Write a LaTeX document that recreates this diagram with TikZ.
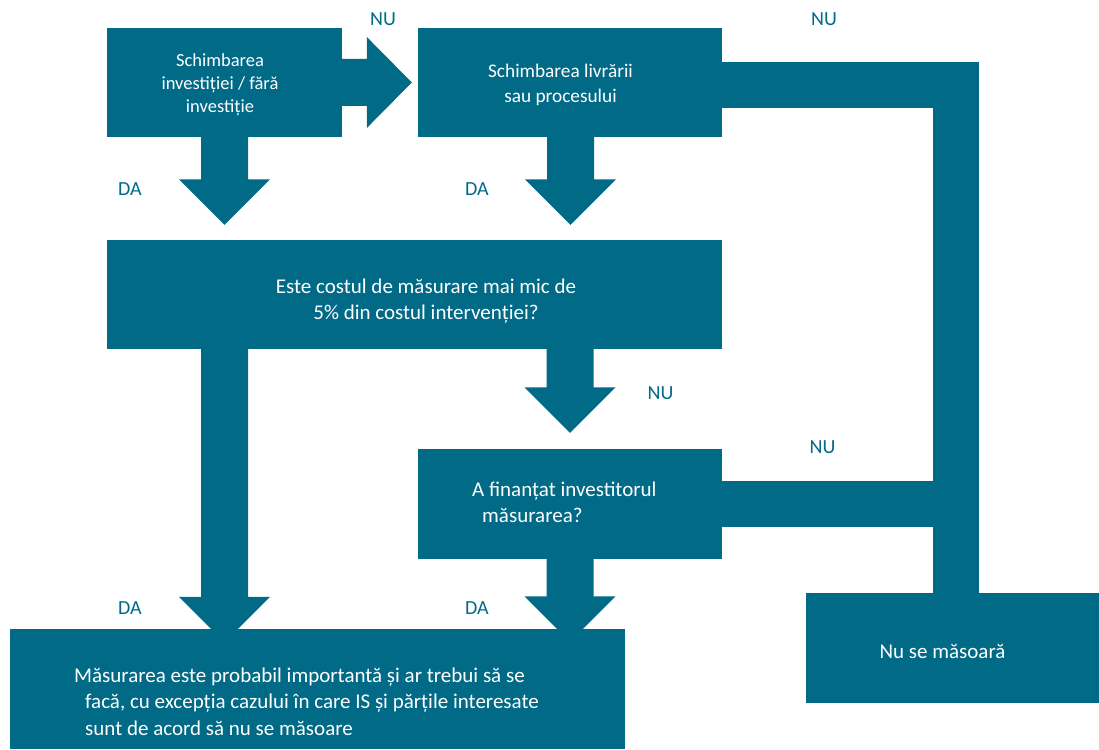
\documentclass[tikz,border=0pt]{standalone}
\usepackage{fontspec}
\setmainfont{Carlito}
\usetikzlibrary{calc}
\definecolor{flowteal}{RGB}{0,106,135}

% block arrow pointing down from the bottom of #1 towards the top of #2
% #3 = axis x, #4 = gap left between the tip and the target
\newcommand\downflow[4]{%
  \fill[flowteal]
    ($(#1.south -| #3,0)+(-23.5,0)$) --
    ($(#2.north -| #3,0)+(-23.5,{-(#4)-45.5})$) --
    ($(#2.north -| #3,0)+(-45.5,{-(#4)-45.5})$) --
    ($(#2.north -| #3,0)+(0,{-(#4)})$) --
    ($(#2.north -| #3,0)+(45.5,{-(#4)-45.5})$) --
    ($(#2.north -| #3,0)+(23.5,{-(#4)-45.5})$) --
    ($(#1.south -| #3,0)+(23.5,0)$) -- cycle;}

% block arrow pointing right from #1 towards #2, axis y = #3, gap = #4
\newcommand\rightflow[4]{%
  \fill[flowteal]
    ($(#1.east |- 0,#3)+(0,-23.5)$) --
    ($(#2.west |- 0,#3)+({-(#4)-45},-23.5)$) --
    ($(#2.west |- 0,#3)+({-(#4)-45},-45.5)$) --
    ($(#2.west |- 0,#3)+({-(#4)},0)$) --
    ($(#2.west |- 0,#3)+({-(#4)-45},45.5)$) --
    ($(#2.west |- 0,#3)+({-(#4)-45},23.5)$) --
    ($(#1.east |- 0,#3)+(0,23.5)$) -- cycle;}

\tikzset{
  box/.style={fill=flowteal, draw=none, inner sep=0pt},
  boxtext/.style={text=white, inner sep=0pt, align=center,
    font=\fontsize{21}{26}\selectfont},
  lbl/.style={text=flowteal, inner sep=0pt, font=\fontsize{20}{22}\selectfont},
  band/.style={draw=flowteal, line width=46pt, line cap=butt, line join=miter}
}

\begin{document}
\begin{tikzpicture}[x=1pt,y=-1pt]
\useasboundingbox (0,0) rectangle (1099,749);

% boxes
\node[box, minimum width=235pt, minimum height=109pt] (b1) at (224.5,82.5) {};
\node[box, minimum width=304pt, minimum height=109pt] (b2) at (570,82.5) {};
\node[box, minimum width=615pt, minimum height=109pt] (b3) at (414.5,294.5) {};
\node[box, minimum width=304pt, minimum height=110pt] (b4) at (570,504) {};
\node[box, minimum width=615pt, minimum height=120pt] (b5) at (317.5,689) {};
\node[box, minimum width=293pt, minimum height=110pt] (b6) at (952.5,648) {};

% connectors
\rightflow{b1}{b2}{82.5}{6}
\downflow{b1}{b3}{224.5}{15}
\downflow{b2}{b3}{570.5}{15}
\downflow{b3}{b4}{570}{16}
\downflow{b3}{b5}{224.5}{-13.5}
\downflow{b4}{b5}{570}{-13}
\coordinate (turn) at (956,85);
\draw[band] (b2.east |- turn) -- (turn) -- (turn |- b6.north);
\draw[band] (b4.east) -- (b4.east -| turn);

% box texts (a multi-line node's base anchor sits on its last line)
\node[boxtext, font=\fontsize{18.5}{23}\selectfont] (t1) at (220,85)
  {Schimbarea\\investiției / fără\\investiție};
\node[boxtext, font=\fontsize{19.3}{25}\selectfont] (t2) at (560.5,84.5)
  {Schimbarea livrării\\sau procesului};
\node[boxtext, anchor=base] (t3) at (426,319)
  {Este costul de măsurare mai mic de\\5\% din costul intervenției?};
\node[boxtext, align=left, anchor=base west] (t4) at (472,522)
  {A finanțat investitorul\\\hspace*{10pt}măsurarea?};
\node[boxtext, align=left, anchor=base west, font=\fontsize{21}{26.5}\selectfont] (t5) at (74,735)
  {Măsurarea este probabil importantă și ar trebui să se\\
   \hspace*{11pt}facă, cu excepția cazului în care IS și părțile interesate\\
   \hspace*{11pt}sunt de acord să nu se măsoare};
\node[boxtext, anchor=base] (t6) at (942.5,658) {Nu se măsoară};

% answer labels
\node[lbl] (nu1) at (383,19) {NU};
\node[lbl] (nu2) at (824,19) {NU};
\node[lbl] (da1) at (130,189) {DA};
\node[lbl] (da2) at (477,189) {DA};
\node[lbl] (nu3) at (660.5,393) {NU};
\node[lbl] (nu4) at (822.5,447) {NU};
\node[lbl] (da3) at (130,608) {DA};
\node[lbl] (da4) at (477,608) {DA};
\end{tikzpicture}
\end{document}
